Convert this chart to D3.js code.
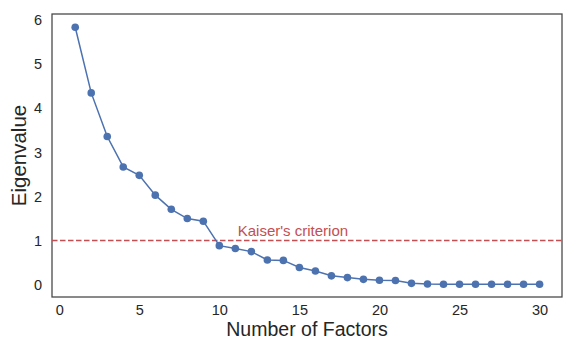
<!DOCTYPE html>
<html lang="en">
<head>
<meta charset="UTF-8">
<title>Scree plot</title>
<script src="https://d3js.org/d3.v7.min.js"></script>
<style>
  body { margin: 0; background: #fff; }
  text { font-family: "Liberation Sans", Arial, sans-serif; fill: #262626; }
</style>
</head>
<body>
<script>
// factor numbers and eigenvalues
var factors = d3.range(1, 31);
var eigenvalues = [5.84, 4.35, 3.36, 2.67, 2.48, 2.03, 1.71, 1.50, 1.44, 0.885,
                   0.82, 0.75, 0.56, 0.55, 0.39, 0.31, 0.20, 0.16, 0.12, 0.10,
                   0.095, 0.03, 0.015, 0.01, 0.01, 0.01, 0.01, 0.01, 0.01, 0.01];
var xTicks = [0, 5, 10, 15, 20, 25, 30];
var yTicks = [0, 1, 2, 3, 4, 5, 6];
var threshold = 1;

var width = 563, height = 340;
var margin = {top: 14, right: 1, bottom: 43, left: 52};

var svg = d3.select("body").append("svg")
    .attr("width", width)
    .attr("height", height);

var x = d3.scaleLinear().domain([-0.45, 31.4]).range([margin.left, width - margin.right]);
var y = d3.scaleLinear().domain([-0.28, 6.14]).range([height - margin.bottom, margin.top]);

// x tick labels
svg.append("g")
    .attr("transform", "translate(0," + (height - margin.bottom) + ")")
    .call(d3.axisBottom(x).tickValues(xTicks).tickFormat(d3.format("d")).tickSize(0).tickPadding(8))
    .call(g => g.select(".domain").remove())
    .selectAll("text").attr("font-size", 14.5).attr("fill", "#262626");

// y tick labels
svg.append("g")
    .attr("transform", "translate(" + margin.left + ",0)")
    .call(d3.axisLeft(y).tickValues(yTicks).tickFormat(d3.format("d")).tickSize(0).tickPadding(10))
    .call(g => g.select(".domain").remove())
    .selectAll("text").attr("font-size", 14.5).attr("fill", "#262626");

// frame
svg.append("rect")
    .attr("x", margin.left)
    .attr("y", margin.top)
    .attr("width", width - margin.left - margin.right)
    .attr("height", height - margin.top - margin.bottom)
    .attr("fill", "none")
    .attr("stroke", "#444")
    .attr("stroke-width", 1.25);

// Kaiser line
svg.append("line")
    .attr("x1", margin.left).attr("x2", width - margin.right)
    .attr("y1", y(threshold)).attr("y2", y(threshold))
    .attr("stroke", "#c44e52")
    .attr("stroke-width", 1.5)
    .attr("stroke-dasharray", "5.5,2.5");

svg.append("text")
    .attr("x", x(11.15))
    .attr("y", y(threshold) - 4.5)
    .attr("font-size", 15)
    .style("fill", "#c44e52")
    .text("Kaiser's criterion");

// scree line + points
var line = d3.line()
    .x((d, i) => x(factors[i]))
    .y(d => y(d));

svg.append("path")
    .datum(eigenvalues)
    .attr("d", line)
    .attr("fill", "none")
    .attr("stroke", "#4c72b0")
    .attr("stroke-width", 1.5);

svg.selectAll("circle")
    .data(eigenvalues)
    .enter()
    .append("circle")
    .attr("cx", (d, i) => x(factors[i]))
    .attr("cy", d => y(d))
    .attr("r", 3.8)
    .attr("fill", "#4c72b0");

// axis labels
svg.append("text")
    .attr("x", (margin.left + width - margin.right) / 2)
    .attr("y", 336)
    .attr("text-anchor", "middle")
    .attr("font-size", 19.5)
    .text("Number of Factors");

svg.append("text")
    .attr("transform", "translate(26," + ((margin.top + height - margin.bottom) / 2) + ") rotate(-90)")
    .attr("text-anchor", "middle")
    .attr("font-size", 20.5)
    .text("Eigenvalue");
</script>
</body>
</html>
